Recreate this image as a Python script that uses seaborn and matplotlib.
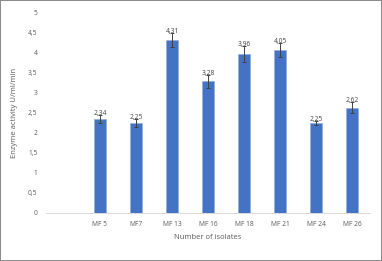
import matplotlib
matplotlib.use("Agg")
import matplotlib.pyplot as plt
import seaborn as sns
import pandas as pd
import numpy as np

categories = ["", "MF 5", "MF7", "MF 13", "MF 16", "MF 18", "MF 21", "MF 24", "MF 26"]
values = [0, 2.34, 2.25, 4.31, 3.28, 3.96, 4.05, 2.25, 2.62]
errors = [0, 0.10, 0.10, 0.18, 0.16, 0.20, 0.18, 0.05, 0.14]
labels = ["", "2,34", "2,25", "4,31", "3,28", "3,96", "4,05", "2,25", "2,62"]
yticks = [0, 0.5, 1, 1.5, 2, 2.5, 3, 3.5, 4, 4.5, 5]
ytick_labels = ["0", "0,5", "1", "1,5", "2", "2,5", "3", "3,5", "4", "4,5", "5"]

sns.set_style("white")
plt.rcParams["font.family"] = ["Open Sans", "DejaVu Sans"]

df = pd.DataFrame({"cat": pd.Categorical(categories, categories=categories, ordered=True),
                   "val": values})

fig = plt.figure(figsize=(3.82, 2.61), dpi=100, linewidth=1.2, edgecolor="#8c8c8c")
ax = fig.add_axes([0.12, 0.184, 0.849, 0.77])
sns.barplot(data=df, x="cat", y="val", order=categories, color="#4472C4",
            width=0.33, saturation=1, ax=ax, errorbar=None,
            edgecolor="#8faadc", linewidth=0.4)

xs = np.arange(len(categories))
for xi, v, e, lab in zip(xs, values, errors, labels):
    if lab == "":
        continue
    ax.errorbar(xi, v, yerr=e, fmt="none", ecolor="#404040", elinewidth=0.7,
                capsize=1.6, capthick=0.7)
    ax.text(xi, v + e - 0.05, lab, ha="center", va="bottom", fontsize=4.8, color="#404040")

ax.set_xlim(-0.5, len(categories) - 0.5)
ax.set_ylim(0, 5)
ax.set_yticks(yticks)
ax.set_yticklabels(ytick_labels)
ax.set_xticks(xs)
ax.set_xticklabels(categories)
ax.set_xticks(np.arange(-0.5, len(categories)), minor=True)
ax.tick_params(axis="x", which="major", length=0, labelsize=4.8, labelcolor="#595959", pad=6)
ax.tick_params(axis="x", which="minor", length=2.5, color="#d9d9d9", width=0.7)
ax.tick_params(axis="y", length=0, labelsize=4.8, labelcolor="#595959", pad=6)

for s in ["top", "right", "left"]:
    ax.spines[s].set_visible(False)
ax.spines["bottom"].set_color("#d9d9d9")
ax.spines["bottom"].set_linewidth(0.7)

ax.set_xlabel("Number of isolates", fontsize=5.5, color="#595959", labelpad=4)
ax.set_ylabel("Enzyme activity U/ml/min", fontsize=5.5, color="#595959", labelpad=7)

fig.savefig("out.png", dpi=100)
